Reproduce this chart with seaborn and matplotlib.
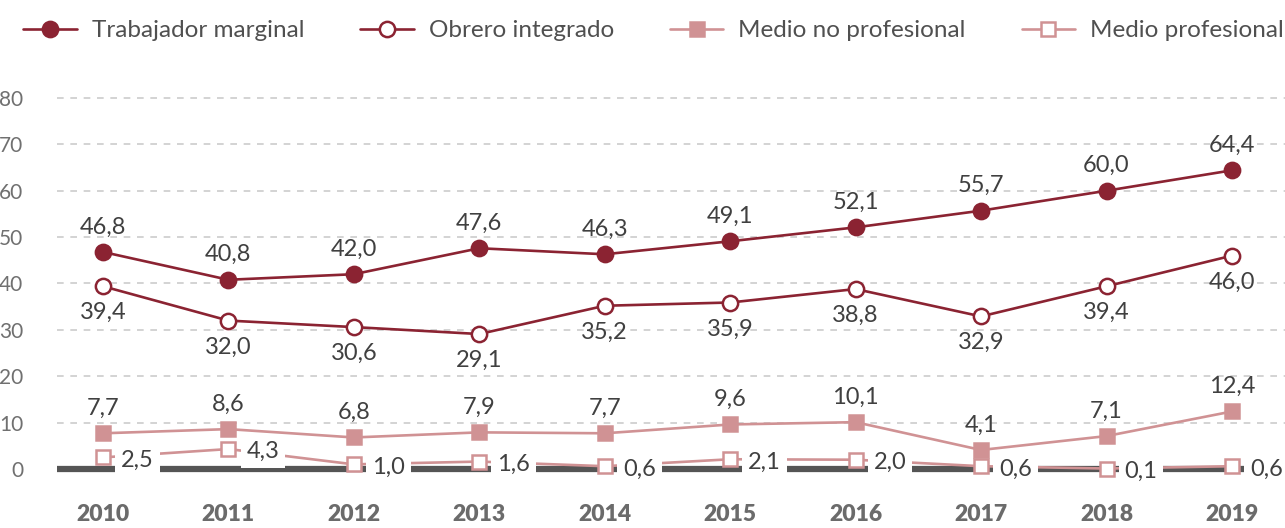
import matplotlib
matplotlib.use("Agg")
import matplotlib.pyplot as plt
import seaborn as sns
import pandas as pd

years = ["2010", "2011", "2012", "2013", "2014", "2015", "2016", "2017", "2018", "2019"]
trabajador_marginal = [46.8, 40.8, 42.0, 47.6, 46.3, 49.1, 52.1, 55.7, 60.0, 64.4]
obrero_integrado = [39.4, 32.0, 30.6, 29.1, 35.2, 35.9, 38.8, 32.9, 39.4, 46.0]
medio_no_profesional = [7.7, 8.6, 6.8, 7.9, 7.7, 9.6, 10.1, 4.1, 7.1, 12.4]
medio_profesional = [2.5, 4.3, 1.0, 1.6, 0.6, 2.1, 2.0, 0.6, 0.1, 0.6]
series_names = ["Trabajador marginal", "Obrero integrado", "Medio no profesional", "Medio profesional"]
yticks = [0, 10, 20, 30, 40, 50, 60, 70, 80]

sns.set_theme(style="white")
plt.rcParams["font.family"] = ["Lato", "DejaVu Sans"]

dark = "#8B2332"
pink = "#D09294"
txt = "#404040"

fig = plt.figure(figsize=(12.85, 5.28), dpi=100)
ax = fig.add_axes([0.044, 0.0854, 0.9567, 0.7466])

x = list(range(len(years)))
df = pd.DataFrame({"x": x * 4,
                   "v": trabajador_marginal + obrero_integrado + medio_no_profesional + medio_profesional,
                   "s": sum([[n] * len(years) for n in series_names], [])})

# zero baseline
ax.axhline(0, xmin=0, xmax=0.966, color="#555555", lw=4.5, zorder=1, solid_capstyle="butt")

styles = [
    dict(color=dark, marker="o", mfc=dark, mec=dark, ms=11),
    dict(color=dark, marker="o", mfc="white", mec=dark, ms=11),
    dict(color=pink, marker="s", mfc=pink, mec=pink, ms=10),
    dict(color=pink, marker="s", mfc="white", mec=pink, ms=10),
]
for name, st in zip(series_names, styles):
    sub = df[df.s == name]
    sns.lineplot(data=sub, x="x", y="v", ax=ax, color=st["color"], lw=1.9,
                 marker=st["marker"], markerfacecolor=st["mfc"], markeredgecolor=st["mec"],
                 markeredgewidth=1.8, markersize=st["ms"], label=name, zorder=3)

fs = 17
for i in x:
    ax.annotate(f"{trabajador_marginal[i]:.1f}".replace(".", ","), (i, trabajador_marginal[i]),
                xytext=(0, 18), textcoords="offset points", ha="center", va="center",
                fontsize=fs, color=txt, zorder=5)
    ax.annotate(f"{obrero_integrado[i]:.1f}".replace(".", ","), (i, obrero_integrado[i]),
                xytext=(0, -19), textcoords="offset points", ha="center", va="center",
                fontsize=fs, color=txt, zorder=5)
    ax.annotate(f"{medio_no_profesional[i]:.1f}".replace(".", ","), (i, medio_no_profesional[i]),
                xytext=(0, 18), textcoords="offset points", ha="center", va="center",
                fontsize=fs, color=txt, zorder=5)
    ax.annotate(f"{medio_profesional[i]:.1f}".replace(".", ","), (i, medio_profesional[i]),
                xytext=(13, -2), textcoords="offset points", ha="left", va="center",
                fontsize=fs, color=txt, zorder=4,
                bbox=dict(boxstyle="square,pad=0.25", fc="white", ec="none"))

ax.set_xlim(-0.37, 9.43)
ax.set_ylim(-3, 82)
ax.set_yticks(yticks)
ax.set_yticklabels([str(t) for t in yticks], fontsize=15, color="#707070")
ax.set_xticks(x)
ax.set_xticklabels(years, fontsize=16.5, fontweight="heavy", color="#6b6b6b")
ax.tick_params(axis="y", length=0, pad=24)
ax.tick_params(axis="x", length=0, pad=15)
for t in yticks[1:]:
    ax.axhline(t, color="#cccccc", lw=1.2, ls=(0, (4, 4)), zorder=0)
for sp in ax.spines.values():
    sp.set_visible(False)
ax.set_xlabel("")
ax.set_ylabel("")

handles, labels = ax.get_legend_handles_labels()
ax.get_legend().remove()
fig.legend(handles, labels, loc="upper left", bbox_to_anchor=(0.018, 0.962), ncol=4, frameon=False,
           fontsize=17.5, handlelength=2.2, columnspacing=2.3, handletextpad=0.62,
           borderpad=0, borderaxespad=0, labelcolor="#505050")

fig.savefig("out.png", dpi=100, facecolor="white")
